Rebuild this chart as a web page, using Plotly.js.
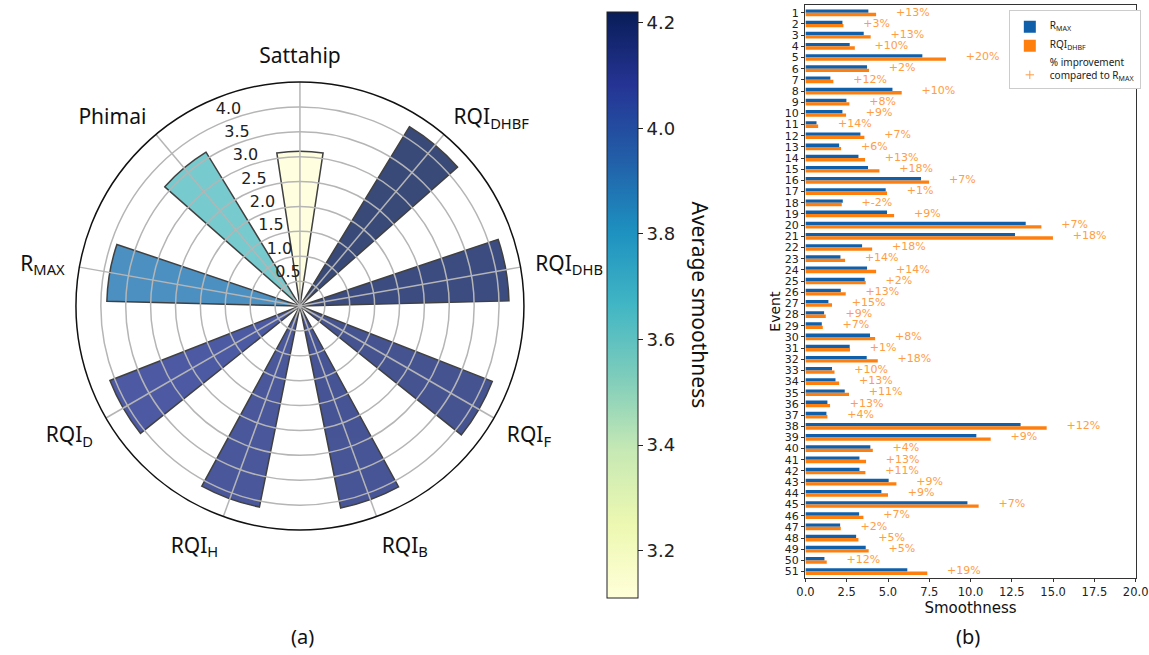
<!DOCTYPE html>
<html>
<head>
<meta charset="utf-8">
<script src="https://cdn.plot.ly/plotly-3.0.1.min.js"></script>
<style>
  html, body { margin: 0; padding: 0; background: #ffffff; }
  #chart { width: 1149px; height: 655px; }
</style>
</head>
<body>
<div id="chart"></div>
<script>
// ---------- Panel (a): average smoothness by station / method ----------
const sites = ['Sattahip', 'Phimai', 'R<sub>MAX</sub>', 'RQI<sub>D</sub>', 'RQI<sub>H</sub>',
               'RQI<sub>B</sub>', 'RQI<sub>F</sub>', 'RQI<sub>DHB</sub>', 'RQI<sub>DHBF</sub>'];
const avgSmoothness = [3.11, 3.62, 3.88, 4.10, 4.12, 4.14, 4.15, 4.20, 4.22];
const radialTicks = [0.5, 1.0, 1.5, 2.0, 2.5, 3.0, 3.5, 4.0];
const colorbarTicks = [3.2, 3.4, 3.6, 3.8, 4.0, 4.2];

// ---------- Panel (b): smoothness per event ----------
const events = Array.from({length: 51}, (_, i) => i + 1);
const rmax = [3.81, 2.24, 3.53, 2.68, 7.08, 3.73, 1.51, 5.27, 2.48, 2.24,
              0.67, 3.33, 2.04, 3.21, 3.79, 7.00, 4.86, 2.26, 4.94, 13.34,
              12.69, 3.43, 2.12, 3.73, 3.59, 2.14, 1.39, 1.13, 0.99, 3.91,
              2.68, 3.71, 1.61, 1.82, 2.38, 1.33, 1.27, 13.03, 10.35, 3.93,
              3.27, 3.27, 5.04, 4.60, 9.81, 3.25, 2.10, 3.07, 3.65, 1.15, 6.17];
const rqiDhbf = [4.28, 2.30, 3.95, 2.99, 8.51, 3.85, 1.69, 5.83, 2.66, 2.46,
                 0.77, 3.57, 2.16, 3.61, 4.48, 7.49, 4.94, 2.20, 5.37, 14.29,
                 14.99, 4.04, 2.40, 4.28, 3.65, 2.44, 1.61, 1.23, 1.05, 4.22,
                 2.70, 4.38, 1.76, 2.04, 2.64, 1.49, 1.33, 14.61, 11.22, 4.08,
                 3.67, 3.63, 5.51, 5.00, 10.49, 3.51, 2.14, 3.21, 3.83, 1.29, 7.38];
const improvementPct = [13, 3, 13, 10, 20, 2, 12, 10, 8, 9,
                        14, 7, 6, 13, 18, 7, 1, -2, 9, 7,
                        18, 18, 14, 14, 2, 13, 15, 9, 7, 8,
                        1, 18, 10, 13, 11, 13, 4, 12, 9, 4,
                        13, 11, 9, 9, 7, 7, 2, 5, 5, 12, 19];
const smoothnessTicks = [0, 2.5, 5, 7.5, 10, 12.5, 15, 17.5, 20];

// YlGnBu colour map
const ylGnBu = [
  [0.000, '#ffffd9'], [0.125, '#edf8b1'], [0.250, '#c7e9b4'],
  [0.375, '#7fcdbb'], [0.500, '#41b6c4'], [0.625, '#1d91c0'],
  [0.750, '#225ea8'], [0.875, '#253494'], [1.000, '#081d58']
];

// one sector per site, counterclockwise starting at the top
const sectorStep = 360 / sites.length;
const thetas = sites.map((_, i) => (90 + i * sectorStep) % 360);
const barWidthDeg = 0.3 * 180 / Math.PI;
const radialLabelAngle = 110;   // direction of the radial tick labels
const radialLabelPad = 0.2;     // labels sit just outside their ring

const blue = '#0f5fab';
const orange = '#ff7f0e';
const pctColor = '#ff9d45';
const dejavu = 'DejaVu Sans, sans-serif';
const noto = 'Noto Sans, sans-serif';

const polarDomain = {x: [0.0661, 0.4560], y: [0.1908, 0.8748]};

const traces = [
  {
    type: 'barpolar', subplot: 'polar',
    r: avgSmoothness, theta: thetas, width: barWidthDeg,
    marker: {
      color: avgSmoothness, colorscale: ylGnBu,
      cmin: Math.min(...avgSmoothness), cmax: Math.max(...avgSmoothness),
      opacity: 0.8,
      line: {color: '#111111', width: 1.5},
      showscale: true,
      colorbar: {
        x: 0.5283, xanchor: 'left', xpad: 0,
        y: 0.534, yanchor: 'middle', ypad: 0,
        len: 586, lenmode: 'pixels', thickness: 31,
        outlinewidth: 1, outlinecolor: '#222222',
        tickmode: 'array', tickvals: colorbarTicks, tickformat: '.1f',
        ticks: 'outside', ticklen: 5, tickcolor: '#222222',
        tickfont: {family: dejavu, size: 18, color: '#222222'}
      }
    },
    showlegend: false, hoverinfo: 'skip'
  },
  // radial tick labels, drawn in the grid overlay above the bars
  {
    type: 'scatterpolar', subplot: 'polar2', mode: 'text',
    r: radialTicks.map(v => v + radialLabelPad),
    theta: radialTicks.map(() => radialLabelAngle),
    text: radialTicks.map(v => v.toFixed(1)),
    textposition: 'middle center',
    textfont: {family: dejavu, size: 16, color: '#222222'},
    showlegend: false, hoverinfo: 'skip'
  },
  {
    type: 'bar', orientation: 'h', name: 'R<sub>MAX</sub>',
    x: rmax, y: events, xaxis: 'x', yaxis: 'y',
    marker: {color: blue}, hoverinfo: 'skip'
  },
  {
    type: 'bar', orientation: 'h', name: 'RQI<sub>DHBF</sub>',
    x: rqiDhbf, y: events, xaxis: 'x', yaxis: 'y',
    marker: {color: orange}, hoverinfo: 'skip'
  },
  {
    type: 'scatter', mode: 'text', xaxis: 'x', yaxis: 'y',
    x: rqiDhbf.map(v => v + 1.2), y: events,
    text: improvementPct.map(p => '+' + p + '%'),
    textposition: 'middle right',
    textfont: {family: dejavu, size: 11, color: pctColor},
    showlegend: false, hoverinfo: 'skip'
  },
  {
    type: 'scatter', mode: 'markers', name: '% improvement<br>compared to R<sub>MAX</sub>',
    x: [null], y: [null], xaxis: 'x', yaxis: 'y',
    marker: {symbol: 'cross-thin', size: 6, color: pctColor, line: {color: pctColor, width: 1}},
    hoverinfo: 'skip'
  }
];

const layout = {
  width: 1149, height: 655,
  margin: {l: 0, r: 0, t: 0, b: 0},
  paper_bgcolor: '#ffffff',
  plot_bgcolor: '#ffffff',
  showlegend: true,
  barmode: 'group', bargap: 0.4, bargroupgap: 0,
  polar: {
    domain: polarDomain,
    bgcolor: '#ffffff',
    radialaxis: {range: [0, 4.5], showgrid: false, showticklabels: false, ticks: '', showline: false},
    angularaxis: {rotation: 0, direction: 'counterclockwise', showgrid: false,
                  showticklabels: false, ticks: '', showline: false}
  },
  polar2: {
    domain: polarDomain,
    bgcolor: 'rgba(0,0,0,0)',
    radialaxis: {
      range: [0, 4.5], tickmode: 'array', tickvals: radialTicks,
      showticklabels: false, showline: false, ticks: '',
      gridcolor: '#b5b5b5', gridwidth: 1.5
    },
    angularaxis: {
      rotation: 0, direction: 'counterclockwise',
      tickmode: 'array', tickvals: thetas, ticktext: sites,
      gridcolor: '#b5b5b5', gridwidth: 1.5,
      showline: true, linecolor: '#111111', linewidth: 1.5,
      ticks: 'outside', ticklen: 10, tickcolor: 'rgba(0,0,0,0)',
      tickfont: {family: noto, size: 21, color: '#111111'}
    }
  },
  xaxis: {
    domain: [0.7010, 0.9884], anchor: 'y',
    range: [0, 20], tickmode: 'array', tickvals: smoothnessTicks, tickformat: '.1f',
    showgrid: false, zeroline: false,
    showline: true, mirror: true, linecolor: '#333333', linewidth: 1,
    ticks: 'outside', ticklen: 3.5, tickcolor: '#333333',
    tickfont: {family: dejavu, size: 11.5, color: '#222222'},
    title: {text: 'Smoothness', font: {family: dejavu, size: 15, color: '#111111'}, standoff: 3}
  },
  yaxis: {
    domain: [0.118, 0.9924], anchor: 'x',
    range: [51.55, 0.3], tickmode: 'array', tickvals: events,
    showgrid: false, zeroline: false,
    showline: true, mirror: true, linecolor: '#333333', linewidth: 1,
    ticks: 'outside', ticklen: 3.5, tickcolor: '#333333',
    tickfont: {family: dejavu, size: 11, color: '#222222'}
  },
  legend: {
    x: 0.878, xanchor: 'left', y: 0.985, yanchor: 'top',
    bgcolor: '#ffffff', bordercolor: '#cccccc', borderwidth: 1,
    font: {family: noto, size: 10, color: '#222222'},
    tracegroupgap: 0, itemwidth: 30, valign: 'bottom'
  },
  annotations: [
    {text: 'Event', textangle: -90, xref: 'paper', yref: 'paper',
     x: 0.675, y: 0.525, xanchor: 'center', yanchor: 'middle', showarrow: false,
     font: {family: dejavu, size: 14, color: '#111111'}},
    {text: 'Average smoothness', textangle: 90, xref: 'paper', yref: 'paper',
     x: 0.609, y: 0.534, xanchor: 'center', yanchor: 'middle', showarrow: false,
     font: {family: noto, size: 21, color: '#111111'}},
    {text: '(a)', xref: 'paper', yref: 'paper', x: 0.2637, y: 0.029,
     xanchor: 'center', yanchor: 'middle', showarrow: false,
     font: {family: noto, size: 20, color: '#111111'}},
    {text: '(b)', xref: 'paper', yref: 'paper', x: 0.8425, y: 0.029,
     xanchor: 'center', yanchor: 'middle', showarrow: false,
     font: {family: noto, size: 20, color: '#111111'}}
  ]
};

Plotly.newPlot('chart', traces, layout, {staticPlot: true, displayModeBar: false});
</script>
</body>
</html>
